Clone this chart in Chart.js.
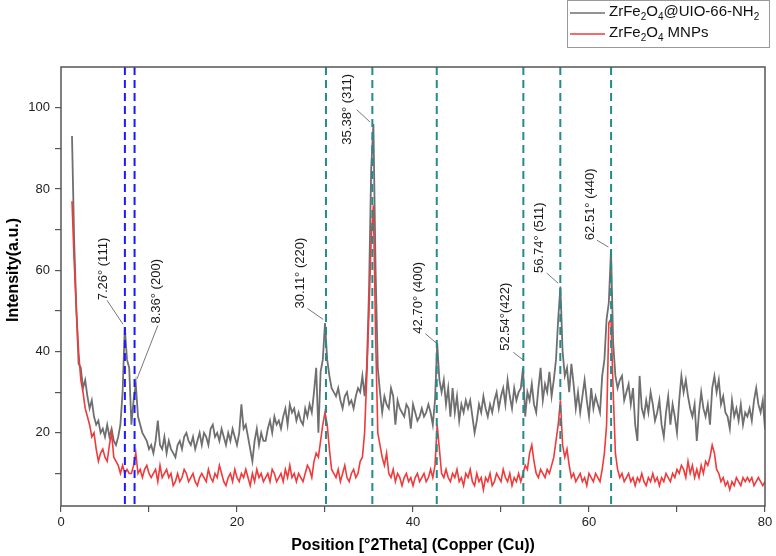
<!DOCTYPE html>
<html>
<head>
<meta charset="utf-8">
<script src="https://cdn.jsdelivr.net/npm/chart.js@4.4.1/dist/chart.umd.min.js"></script>
<style>
  html, body { margin: 0; padding: 0; background: #fff; }
  canvas { display: block; }
</style>
</head>
<body>
<canvas id="xrd" width="776" height="556"></canvas>
<script>
// intensity of ZrFe2O4@UIO-66-NH2, one line per degree (x.25, x.5, x.75, x+1)
const uio = [
  93, 67, 50, 37,
  36, 31, 33, 29,
  26, 28, 24, 22,
  23, 20, 21, 19,
  22, 19, 21, 18,
  17, 19, 22, 30,
  46, 38, 36, 22,
  28, 32, 24, 22,
  20, 19, 18, 16,
  17, 15, 18, 23,
  17, 16, 19, 15,
  18, 16, 15, 14,
  17, 18, 16, 19,
  20, 18, 17, 19,
  16, 18, 20, 17,
  20, 19, 17, 21,
  22, 19, 20, 18,
  21, 19, 17, 20,
  18, 21, 19, 17,
  20, 27, 21, 22,
  19, 16, 13, 18,
  21, 17, 20, 18,
  18, 21, 23, 20,
  24, 22, 23, 21,
  24, 26, 22, 27,
  25, 26, 23, 25,
  23, 22, 26, 24,
  27, 25, 30, 36,
  20, 35, 38, 47,
  38, 34, 31, 30,
  29, 31, 28, 26,
  29, 30, 27, 28,
  26, 29, 31, 30,
  34, 29, 36, 55,
  85, 96, 60, 36,
  30, 25, 29, 27,
  26, 31, 29, 22,
  28, 26, 25, 24,
  27, 26, 21, 27,
  25, 23, 24, 26,
  24, 25, 27, 25,
  22, 28, 42, 33,
  30, 33, 27, 31,
  24, 31, 25, 29,
  23, 27, 25, 28,
  26, 28, 24, 20,
  23, 27, 25, 29,
  26, 24, 27, 25,
  28, 30, 26, 29,
  31, 27, 33, 29,
  26, 31, 28, 30,
  31, 36, 24, 30,
  28, 32, 27, 25,
  31, 36, 28, 32,
  30, 35, 29, 33,
  38, 48, 56, 40,
  34, 36, 30, 37,
  32, 26, 30, 25,
  29, 33, 28, 24,
  31, 26, 29, 27,
  25, 34, 38, 48,
  52, 65, 42, 34,
  31, 33, 34, 28,
  30, 32, 27, 31,
  22, 18, 34, 26,
  24, 28, 25, 30,
  27, 23, 25, 28,
  22, 19, 25, 29,
  22, 27, 24, 20,
  28, 34, 30, 33,
  29, 26, 24, 27,
  18, 25, 30, 26,
  24, 27, 22, 31,
  34, 30, 33, 27,
  29, 25, 24, 21,
  28, 24, 26, 23,
  27, 22, 25, 24,
  26, 23, 28, 31,
  27, 25, 28, 21
];

// intensity of ZrFe2O4 MNPs, same sampling
const mnp = [
  77, 62, 50, 40,
  33, 30, 26, 24,
  22, 19, 20, 16,
  13, 15, 16, 14,
  13, 17, 20, 14,
  13, 12, 10, 12,
  10, 11, 10, 10,
  12, 15, 10, 11,
  9, 11, 12, 10,
  9, 10, 11, 8,
  12, 9, 10, 11,
  9, 10, 7, 8,
  10, 8, 9, 11,
  10, 8, 9, 10,
  8, 7, 9, 10,
  9, 8, 11, 9,
  8, 10, 9, 12,
  10, 8, 7, 9,
  10, 8, 11, 9,
  8, 10, 9, 11,
  9, 7, 10, 8,
  11, 9, 10, 8,
  9, 10, 8, 11,
  10, 8, 9, 10,
  8, 11, 9, 12,
  9, 10, 8, 10,
  9, 8, 10, 12,
  11, 9, 13, 15,
  14, 18, 22, 25,
  22, 16, 11, 10,
  9, 11, 8, 10,
  12, 9, 8, 10,
  11, 9, 10, 13,
  14, 20, 34, 50,
  68, 76, 44, 20,
  17, 14, 12, 15,
  10, 9, 11, 8,
  10, 9, 7, 9,
  10, 8, 9, 7,
  9, 10, 8, 9,
  10, 8, 9, 11,
  9, 12, 22, 16,
  10, 9, 11, 9,
  8, 10, 9, 11,
  8, 9, 7, 10,
  9, 11, 8, 7,
  10, 8, 9, 6,
  9, 8, 10, 7,
  8, 10, 9, 8,
  11, 9, 8, 10,
  7, 9, 8, 10,
  8, 10, 12, 11,
  15, 17, 13, 10,
  9, 11, 10, 9,
  11, 10, 12, 14,
  18, 22, 28, 17,
  14, 16, 12, 9,
  10, 8, 9, 10,
  8, 9, 7, 10,
  9, 8, 10, 9,
  8, 11, 15, 22,
  47, 48, 30, 15,
  11, 9, 10, 8,
  9, 10, 8, 9,
  7, 9, 8, 10,
  8, 7, 9, 8,
  10, 8, 9, 7,
  9, 8, 10, 9,
  8, 10, 9, 11,
  10, 12, 11, 9,
  13, 10, 12, 9,
  11, 9, 12, 10,
  13, 12, 14, 17,
  15, 11, 10, 8,
  9, 7, 8, 6,
  8, 7, 9, 8,
  7, 9, 8, 9,
  8, 9, 7, 8,
  9, 8, 7, 8
];

// 2theta sampling grid (0.25 deg)
const twoTheta = uio.map((_, i) => 1.25 + i * 0.25);

const xTicks = [0, 10, 20, 30, 40, 50, 60, 70, 80];
const xTickLabels = [0, 20, 40, 60, 80];
const yTicks = [10, 20, 30, 40, 50, 60, 70, 80, 90, 100];
const yTickLabels = [20, 40, 60, 80, 100];

// reference lines
const mofLines = [7.26, 8.36];
const spinelLines = [30.11, 35.38, 42.70, 52.54, 56.74, 62.51];

// peak labels: text centre / bottom and leader line, in data units
const peakLabels = [
  { text: '7.26° (111)',  x: 4.77, y: 52.6, from: [5.23, 52.6], to: [7.05, 46.7] },
  { text: '8.36° (200)',  x: 10.9, y: 46.9, from: [11.0, 46.4], to: [8.64, 33.3] },
  { text: '30.11° (220)', x: 27.2, y: 50.6, from: [28.0, 50.6], to: [29.8, 47.9] },
  { text: '35.38° (311)', x: 32.6, y: 90.9, from: [33.6, 99.5], to: [35.1, 96.5] },
  { text: '42.70° (400)', x: 40.6, y: 44.4, from: [41.4, 44.4], to: [42.7, 42.0] },
  { text: '52.54°(422)',  x: 50.5, y: 40.2, from: [51.4, 39.8], to: [52.6, 37.8] },
  { text: '56.74° (511)', x: 54.4, y: 59.3, from: [55.2, 59.3], to: [56.5, 56.8] },
  { text: '62.51° (440)', x: 60.2, y: 67.4, from: [60.9, 67.4], to: [62.2, 65.7] }
];

// legend text with subscripts: [text, isSub]
const legendUio = [['ZrFe', 0], ['2', 1], ['O', 0], ['4', 1], ['@UIO-66-NH', 0], ['2', 1]];
const legendMnp = [['ZrFe', 0], ['2', 1], ['O', 0], ['4', 1], [' MNPs', 0]];

const GRAY = '#6f6f6f';
const RED = '#ef3b3b';
const FONT = '"Liberation Sans", Arial, sans-serif';

function drawRich(ctx, parts, x, y) {
  let cx = x;
  parts.forEach(([t, sub]) => {
    ctx.font = sub ? '10px ' + FONT : '15px ' + FONT;
    ctx.fillText(t, cx, sub ? y + 5 : y);
    cx += ctx.measureText(t).width;
  });
}

const decor = {
  id: 'decor',
  afterDatasetsDraw(chart) {
    const { ctx, chartArea: a, scales: { x, y } } = chart;
    ctx.save();
    // dashed reference lines
    ctx.lineWidth = 2;
    ctx.setLineDash([8, 5]);
    const vline = (v, color) => {
      const px = x.getPixelForValue(v);
      ctx.strokeStyle = color;
      ctx.beginPath();
      ctx.moveTo(px, a.top);
      ctx.lineTo(px, a.bottom);
      ctx.stroke();
    };
    mofLines.forEach(v => vline(v, '#1a1aff'));
    spinelLines.forEach(v => vline(v, '#258b8b'));
    ctx.setLineDash([]);

    // peak labels
    ctx.lineWidth = 0.8;
    ctx.strokeStyle = '#555';
    ctx.fillStyle = '#1a1a1a';
    ctx.font = '13px ' + FONT;
    peakLabels.forEach(p => {
      ctx.beginPath();
      ctx.moveTo(x.getPixelForValue(p.from[0]), y.getPixelForValue(p.from[1]));
      ctx.lineTo(x.getPixelForValue(p.to[0]), y.getPixelForValue(p.to[1]));
      ctx.stroke();
      ctx.save();
      ctx.translate(x.getPixelForValue(p.x), y.getPixelForValue(p.y));
      ctx.rotate(-Math.PI / 2);
      ctx.textAlign = 'left';
      ctx.textBaseline = 'middle';
      ctx.fillText(p.text, 0, 0);
      ctx.restore();
    });
    ctx.restore();
  },
  afterDraw(chart) {
    const { ctx, chartArea: a } = chart;
    ctx.save();
    // plot frame
    ctx.strokeStyle = '#555';
    ctx.lineWidth = 1.5;
    ctx.strokeRect(a.left, a.top, a.right - a.left, a.bottom - a.top);

    // axis titles
    ctx.fillStyle = '#000';
    ctx.font = 'bold 16px ' + FONT;
    ctx.textAlign = 'center';
    ctx.textBaseline = 'middle';
    ctx.fillText('Position [°2Theta] (Copper (Cu))', (a.left + a.right) / 2, 546);
    ctx.save();
    ctx.translate(14, 270);
    ctx.rotate(-Math.PI / 2);
    ctx.fillText('Intensity(a.u.)', 0, 0);
    ctx.restore();

    // legend
    ctx.fillStyle = '#fff';
    ctx.fillRect(567, 0, 203, 48);
    ctx.strokeStyle = '#999';
    ctx.lineWidth = 1;
    ctx.strokeRect(567.5, 0.5, 202, 47);
    ctx.lineWidth = 1.5;
    ctx.strokeStyle = GRAY;
    ctx.beginPath(); ctx.moveTo(570, 13); ctx.lineTo(605, 13); ctx.stroke();
    ctx.strokeStyle = RED;
    ctx.beginPath(); ctx.moveTo(570, 34); ctx.lineTo(605, 34); ctx.stroke();
    ctx.fillStyle = '#111';
    ctx.textAlign = 'left';
    ctx.textBaseline = 'middle';
    drawRich(ctx, legendUio, 609, 12);
    drawRich(ctx, legendMnp, 609, 33);
    ctx.restore();
  }
};

new Chart(document.getElementById('xrd'), {
  type: 'line',
  data: {
    labels: twoTheta,
    datasets: [
      {
        label: 'ZrFe2O4@UIO-66-NH2',
        data: twoTheta.map((t, i) => ({ x: t, y: uio[i] })),
        borderColor: GRAY,
        borderWidth: 1.8,
        pointRadius: 0,
        tension: 0,
        order: 1
      },
      {
        label: 'ZrFe2O4 MNPs',
        data: twoTheta.map((t, i) => ({ x: t, y: mnp[i] })),
        borderColor: RED,
        borderWidth: 1.6,
        pointRadius: 0,
        tension: 0,
        order: 0
      }
    ]
  },
  options: {
    responsive: false,
    animation: false,
    devicePixelRatio: 1,
    layout: { padding: { top: 67, right: 11, left: 0, bottom: 0 } },
    plugins: { legend: { display: false }, tooltip: { enabled: false } },
    scales: {
      x: {
        type: 'linear',
        min: 0,
        max: 80,
        afterFit: s => { s.height = 50; },
        afterBuildTicks: s => { s.ticks = xTicks.map(v => ({ value: v })); },
        grid: { drawOnChartArea: false, tickLength: 6, color: '#555', lineWidth: 1.2 },
        border: { display: false },
        ticks: {
          autoSkip: false,
          maxRotation: 0,
          padding: 3,
          color: '#222',
          font: { family: FONT, size: 13 },
          callback: v => xTickLabels.includes(v) ? v : ''
        }
      },
      y: {
        min: 2,
        max: 110,
        afterFit: s => { s.width = 61; },
        afterBuildTicks: s => { s.ticks = yTicks.map(v => ({ value: v })); },
        grid: { drawOnChartArea: false, tickLength: 6, color: '#555', lineWidth: 1.2 },
        border: { display: false },
        ticks: {
          autoSkip: false,
          padding: 5,
          color: '#222',
          font: { family: FONT, size: 13 },
          callback: v => yTickLabels.includes(v) ? v : ''
        }
      }
    }
  },
  plugins: [decor]
});
</script>
</body>
</html>
